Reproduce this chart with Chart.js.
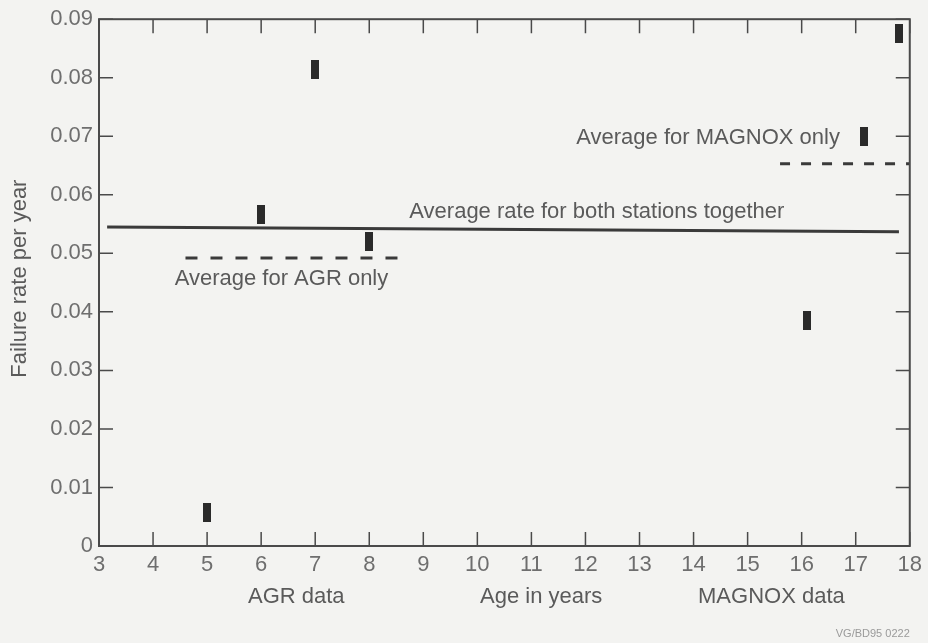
<!DOCTYPE html>
<html>
<head>
<meta charset="utf-8">
<script src="https://cdn.jsdelivr.net/npm/chart.js@4.4.1/dist/chart.umd.min.js"></script>
<style>
  html, body { margin: 0; padding: 0; background: #f3f3f1; }
  #c { display: block; }
</style>
</head>
<body>
<canvas id="c" width="928" height="643"></canvas>
<script>
// ---- data ----
const xTickLabels = ['3','4','5','6','7','8','9','10','11','12','13','14','15','16','17','18'];
const yTickLabels = ['0','0.01','0.02','0.03','0.04','0.05','0.06','0.07','0.08','0.09'];

const agrAge = [5, 6, 7, 8];
const agrRate = [0.0058, 0.0566, 0.0814, 0.052];

const magnoxAge = [16.1, 17.15, 17.8];
const magnoxRate = [0.0386, 0.070, 0.0876];

const bothAvgX = [3.15, 17.8];
const bothAvgY = [0.0545, 0.0537];

const agrAvgX = [4.6, 8.55];
const agrAvgY = [0.0492, 0.0492];

const magnoxAvgX = [15.6, 18];
const magnoxAvgY = [0.0653, 0.0653];

const annotationTexts = ['Average rate for both stations together', 'Average for AGR only', 'Average for MAGNOX only'];
const axisTexts = ['AGR data', 'Age in years', 'MAGNOX data'];
const yTitle = 'Failure rate per year';
const refCode = 'VG/BD95 0222';

// ---- helpers ----
const FONT = "'Liberation Sans', Arial, Helvetica, sans-serif";
function zip(xs, ys) { return xs.map((x, i) => ({ x: x, y: ys[i] })); }

const marker = document.createElement('canvas');
marker.width = 8; marker.height = 19;
(function () {
  const g = marker.getContext('2d');
  g.fillStyle = '#2a2a2a';
  g.fillRect(0, 0, 8, 19);
})();

const framePlugin = {
  id: 'frame',
  afterDraw(chart) {
    const ctx = chart.ctx;
    const a = chart.chartArea;
    const xs = chart.scales.x, ys = chart.scales.y;
    ctx.save();
    // frame
    ctx.strokeStyle = '#4a4a4a';
    ctx.lineWidth = 2;
    ctx.strokeRect(a.left, a.top, a.right - a.left, a.bottom - a.top);
    // inward ticks
    ctx.lineWidth = 1.5;
    const TL = 14;
    ctx.beginPath();
    xs.ticks.forEach(t => {
      const px = xs.getPixelForValue(t.value);
      ctx.moveTo(px, a.bottom); ctx.lineTo(px, a.bottom - TL);
      ctx.moveTo(px, a.top); ctx.lineTo(px, a.top + TL);
    });
    ys.ticks.forEach(t => {
      const py = ys.getPixelForValue(t.value);
      ctx.moveTo(a.left, py); ctx.lineTo(a.left + TL, py);
      ctx.moveTo(a.right, py); ctx.lineTo(a.right - TL, py);
    });
    ctx.stroke();

    // annotation texts
    ctx.fillStyle = '#5a5a5a';
    ctx.font = '22px ' + FONT;
    ctx.textBaseline = 'alphabetic';
    ctx.textAlign = 'right';
    ctx.fillText(annotationTexts[0], xs.getPixelForValue(15.68), ys.getPixelForValue(0.0561));
    ctx.textAlign = 'left';
    ctx.fillText(annotationTexts[1], xs.getPixelForValue(4.40), ys.getPixelForValue(0.04458));
    ctx.fillText(annotationTexts[2], xs.getPixelForValue(11.83), ys.getPixelForValue(0.0686));

    // bottom group labels
    ctx.textAlign = 'center';
    const by = a.bottom + 57;
    ctx.fillText(axisTexts[0], xs.getPixelForValue(6.65), by);
    ctx.fillText(axisTexts[1], xs.getPixelForValue(11.18), by);
    ctx.fillText(axisTexts[2], xs.getPixelForValue(15.44), by);

    // y title
    ctx.save();
    ctx.translate(20, (a.top + a.bottom) / 2 - 4);
    ctx.rotate(-Math.PI / 2);
    ctx.textAlign = 'center';
    ctx.textBaseline = 'middle';
    ctx.fillText(yTitle, 0, 0);
    ctx.restore();

    // reference code
    ctx.fillStyle = '#9a9a9a';
    ctx.font = '11px ' + FONT;
    ctx.textAlign = 'right';
    ctx.textBaseline = 'alphabetic';
    ctx.fillText(refCode, a.right, chart.height - 6);
    ctx.restore();
  }
};

const bgPlugin = {
  id: 'bg',
  beforeDraw(chart) {
    const ctx = chart.ctx;
    ctx.save();
    ctx.fillStyle = '#f3f3f1';
    ctx.fillRect(0, 0, chart.width, chart.height);
    ctx.restore();
  }
};

new Chart(document.getElementById('c'), {
  type: 'scatter',
  data: {
    datasets: [
      { label: 'Average both', data: zip(bothAvgX, bothAvgY), showLine: true, borderColor: '#3a3a3a', borderWidth: 3, pointRadius: 0, fill: false },
      { label: 'Average AGR', data: zip(agrAvgX, agrAvgY), showLine: true, borderColor: '#3a3a3a', borderWidth: 3, borderDash: [12, 13], pointRadius: 0, fill: false },
      { label: 'Average MAGNOX', data: zip(magnoxAvgX, magnoxAvgY), showLine: true, borderColor: '#3a3a3a', borderWidth: 3, borderDash: [10, 11], pointRadius: 0, fill: false },
      { label: 'AGR', data: zip(agrAge, agrRate), pointStyle: marker, pointRadius: 5, clip: false },
      { label: 'MAGNOX', data: zip(magnoxAge, magnoxRate), pointStyle: marker, pointRadius: 5, clip: false }
    ]
  },
  options: {
    responsive: false,
    animation: false,
    devicePixelRatio: 1,
    layout: { padding: { top: 15, right: 15, left: 0, bottom: 0 } },
    plugins: { legend: { display: false }, tooltip: { enabled: false } },
    scales: {
      x: {
        type: 'linear', min: 3, max: 18,
        grid: { display: false, drawTicks: false },
        border: { display: false },
        ticks: {
          stepSize: 1, padding: 6, color: '#6e6e6e', maxRotation: 0, autoSkip: false,
          font: { family: FONT, size: 22 },
          callback: (v) => { const i = Math.round(v - 3); return xTickLabels[i] !== undefined ? xTickLabels[i] : ''; }
        },
        afterFit: (s) => { s.height = 97; }
      },
      y: {
        type: 'linear', min: 0, max: 0.09,
        grid: { display: false, drawTicks: false },
        border: { display: false },
        ticks: {
          stepSize: 0.01, padding: 6, color: '#6e6e6e', autoSkip: false,
          font: { family: FONT, size: 22 },
          callback: (v) => { const i = Math.round(v * 100); return yTickLabels[i] !== undefined ? yTickLabels[i] : ''; }
        },
        afterFit: (s) => { s.width = 99; }
      }
    }
  },
  plugins: [bgPlugin, framePlugin]
});
</script>
</body>
</html>
